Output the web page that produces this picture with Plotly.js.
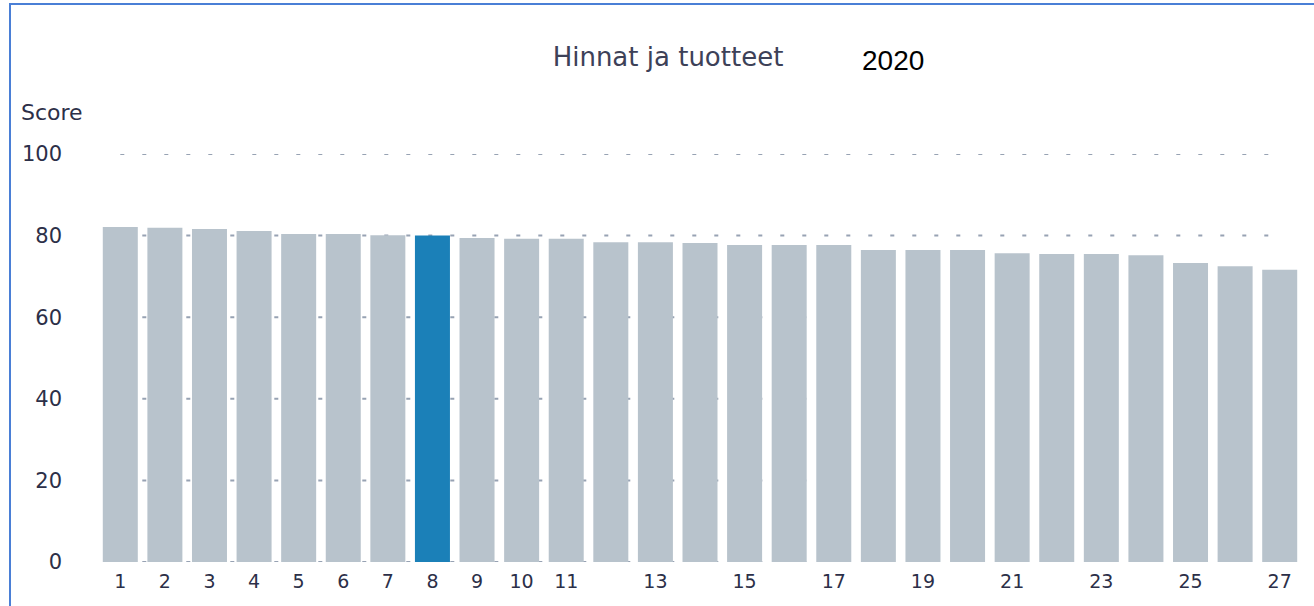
<!DOCTYPE html>
<html>
<head>
<meta charset="utf-8">
<script src="https://cdn.plot.ly/plotly-3.0.1.min.js"></script>
<style>
  html, body { margin: 0; padding: 0; background: #ffffff; }
  #chart { width: 1314px; height: 606px; }
  #frame { position: absolute; left: 9px; top: 3px; width: 1320px; height: 620px;
           border-left: 2px solid #4a7fd6; border-top: 2px solid #4a7fd6; pointer-events: none; }
</style>
</head>
<body>
<div id="chart"></div>
<div id="frame"></div>
<script>
// ---- data ----
const ranks = [1,2,3,4,5,6,7,8,9,10,11,12,13,14,15,16,17,18,19,20,21,22,23,24,25,26,27];
const scores = [82.1,81.9,81.6,81.1,80.4,80.4,80.1,80.0,79.4,79.2,79.2,78.4,78.4,78.2,77.7,77.7,77.7,76.5,76.5,76.5,75.7,75.5,75.5,75.2,73.3,72.5,71.6];
const highlightRank = 8;
const xTickVals = [1,2,3,4,5,6,7,8,9,10,11,13,15,17,19,21,23,25,27];
const xTickText = ["1","2","3","4","5","6","7","8","9","10","11","13","15","17","19","21","23","25","27"];
const yTickVals = [0,20,40,60,80,100];
const yTickText = ["0","20","40","60","80","100"];
const chartTitle = "Hinnat ja tuotteet";
const yearLabel = "2020";
const yLabel = "Score";

// ---- styles ----
const barGrey = "#b8c3cc";
const barBlue = "#1b80b8";
const textColor = "#2c2f48";
const gridColor = "#97a2b3";

const colors = ranks.map(r => r === highlightRank ? barBlue : barGrey);

const W = 1314, H = 606;
const mL = 98, mR = 12, mT = 154, mB = 44;
const pw = W - mL - mR, ph = H - mT - mB;

const gridShapes = yTickVals.map(v => ({
  type: "line", xref: "x", yref: "y",
  x0: 1, x1: 26.8, y0: v, y1: v,
  layer: "below",
  line: { color: gridColor, width: 2, dash: "4px,18px" }
}));

const trace = {
  type: "bar",
  x: ranks,
  y: scores,
  marker: { color: colors, line: { width: 0 } },
  hoverinfo: "x+y"
};

const layout = {
  width: W, height: H,
  margin: { l: mL, r: mR, t: mT, b: mB },
  paper_bgcolor: "#ffffff",
  plot_bgcolor: "rgba(0,0,0,0)",
  bargap: 0.215,
  showlegend: false,
  title: {
    text: chartTitle,
    xref: "container", yref: "container",
    x: 668 / W, y: 1 - 57 / H,
    xanchor: "center", yanchor: "middle",
    font: { family: "DejaVu Sans, sans-serif", size: 26, color: "#3d4158" }
  },
  xaxis: {
    range: [0.5, 27.5],
    tickmode: "array", tickvals: xTickVals, ticktext: xTickText,
    showgrid: false, zeroline: false, showline: false, ticks: "",
    ticklabelstandoff: 6,
    tickfont: { family: "DejaVu Sans, sans-serif", size: 19, color: textColor },
    fixedrange: true
  },
  yaxis: {
    range: [0, 100],
    tickmode: "array", tickvals: yTickVals, ticktext: yTickText,
    showgrid: false, zeroline: false, showline: false, ticks: "",
    ticklabelstandoff: 35,
    tickfont: { family: "DejaVu Sans, sans-serif", size: 21, color: textColor },
    fixedrange: true
  },
  shapes: gridShapes,
  annotations: [
    {
      text: yLabel, xref: "paper", yref: "paper",
      x: (19 - mL) / pw, y: (H - mB - 113) / ph,
      xanchor: "left", yanchor: "middle", showarrow: false,
      font: { family: "DejaVu Sans, sans-serif", size: 22, color: textColor }
    },
    {
      text: yearLabel, xref: "paper", yref: "paper",
      x: (893 - mL) / pw, y: (H - mB - 61) / ph,
      xanchor: "center", yanchor: "middle", showarrow: false,
      font: { family: "Liberation Sans, Arial, sans-serif", size: 28, color: "#000000" }
    }
  ]
};

Plotly.newPlot("chart", [trace], layout, { displayModeBar: false, staticPlot: true });
</script>
</body>
</html>
